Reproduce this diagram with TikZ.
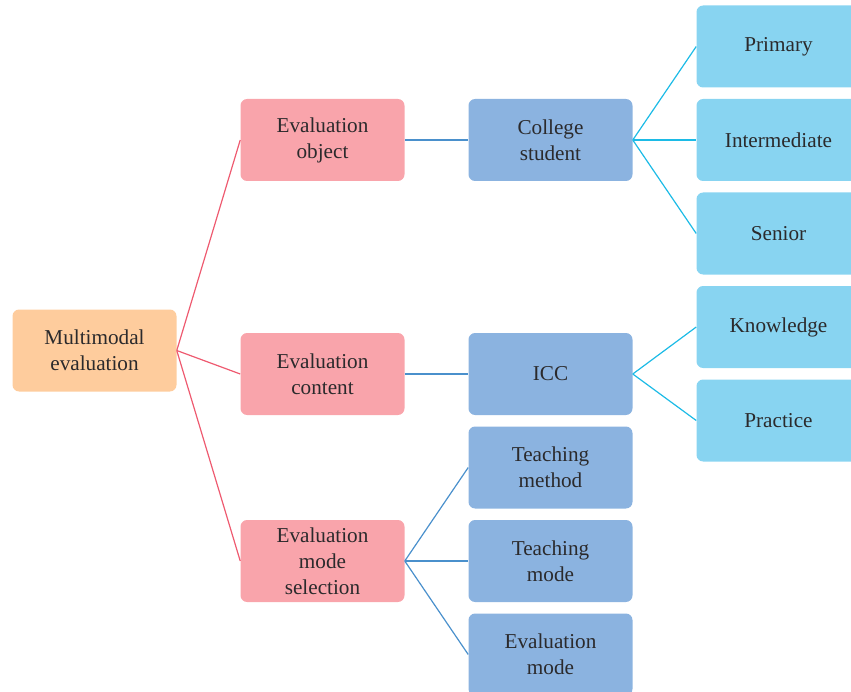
\documentclass[tikz,border=0pt]{standalone}
\usepackage{fontspec}
\setmainfont{Liberation Serif}
\definecolor{org}{HTML}{FECC9D}
\definecolor{pnk}{HTML}{F9A4AB}
\definecolor{blu}{HTML}{8BB3E0}
\definecolor{cyn}{HTML}{88D4F1}
\definecolor{lpnk}{HTML}{EE5A70}
\definecolor{lblu}{HTML}{4A90CC}
\definecolor{lcyn}{HTML}{1CBBE6}
\definecolor{txt}{HTML}{2B2A2C}
\tikzset{
 x=0.75pt,y=-0.75pt,
 box/.style={rounded corners=5pt,minimum width=123pt,minimum height=61.5pt,inner sep=0pt,align=center,text=txt,font=\fontsize{15.9}{19.4}\selectfont,anchor=center},
 orgbox/.style={box,fill=org},
 pnkbox/.style={box,fill=pnk},
 blubox/.style={box,fill=blu},
 cynbox/.style={box,fill=cyn},
 l1/.style={draw=lpnk,line width=0.9pt},
 l2/.style={draw=lblu,line width=0.9pt},
 l3/.style={draw=lcyn,line width=0.9pt}
}
\begin{document}
\begin{tikzpicture}
\useasboundingbox (0,0) rectangle (851,692);
\node[orgbox] (root) at (94.5,350.5) {Multimodal\\evaluation};
\node[pnkbox] (obj) at (322.5,140) {Evaluation\\object};
\node[pnkbox] (con) at (322.5,374) {Evaluation\\content};
\node[pnkbox] (sel) at (322.5,561) {Evaluation\\mode\\selection};
\node[blubox] (col) at (550.5,140) {College\\student};
\node[blubox] (icc) at (550.5,374) {ICC};
\node[blubox] (tme) at (550.5,467.5) {Teaching\\method};
\node[blubox] (tmo) at (550.5,561) {Teaching\\mode};
\node[blubox] (evm) at (550.5,654.5) {Evaluation\\mode};
\node[cynbox] (pri) at (778.5,46.5) {Primary};
\node[cynbox] (int) at (778.5,140) {Intermediate};
\node[cynbox] (sen) at (778.5,233.5) {Senior};
\node[cynbox] (kno) at (778.5,327) {Knowledge};
\node[cynbox] (pra) at (778.5,420.5) {Practice};
\draw[l1] (root.east) -- (obj.west);
\draw[l1] (root.east) -- (con.west);
\draw[l1] (root.east) -- (sel.west);
\draw[l2] (obj.east) -- (col.west);
\draw[l2] (con.east) -- (icc.west);
\draw[l2] (sel.east) -- (tme.west);
\draw[l2] (sel.east) -- (tmo.west);
\draw[l2] (sel.east) -- (evm.west);
\draw[l3] (col.east) -- (pri.west);
\draw[l3] (col.east) -- (int.west);
\draw[l3] (col.east) -- (sen.west);
\draw[l3] (icc.east) -- (kno.west);
\draw[l3] (icc.east) -- (pra.west);
\end{tikzpicture}
\end{document}
